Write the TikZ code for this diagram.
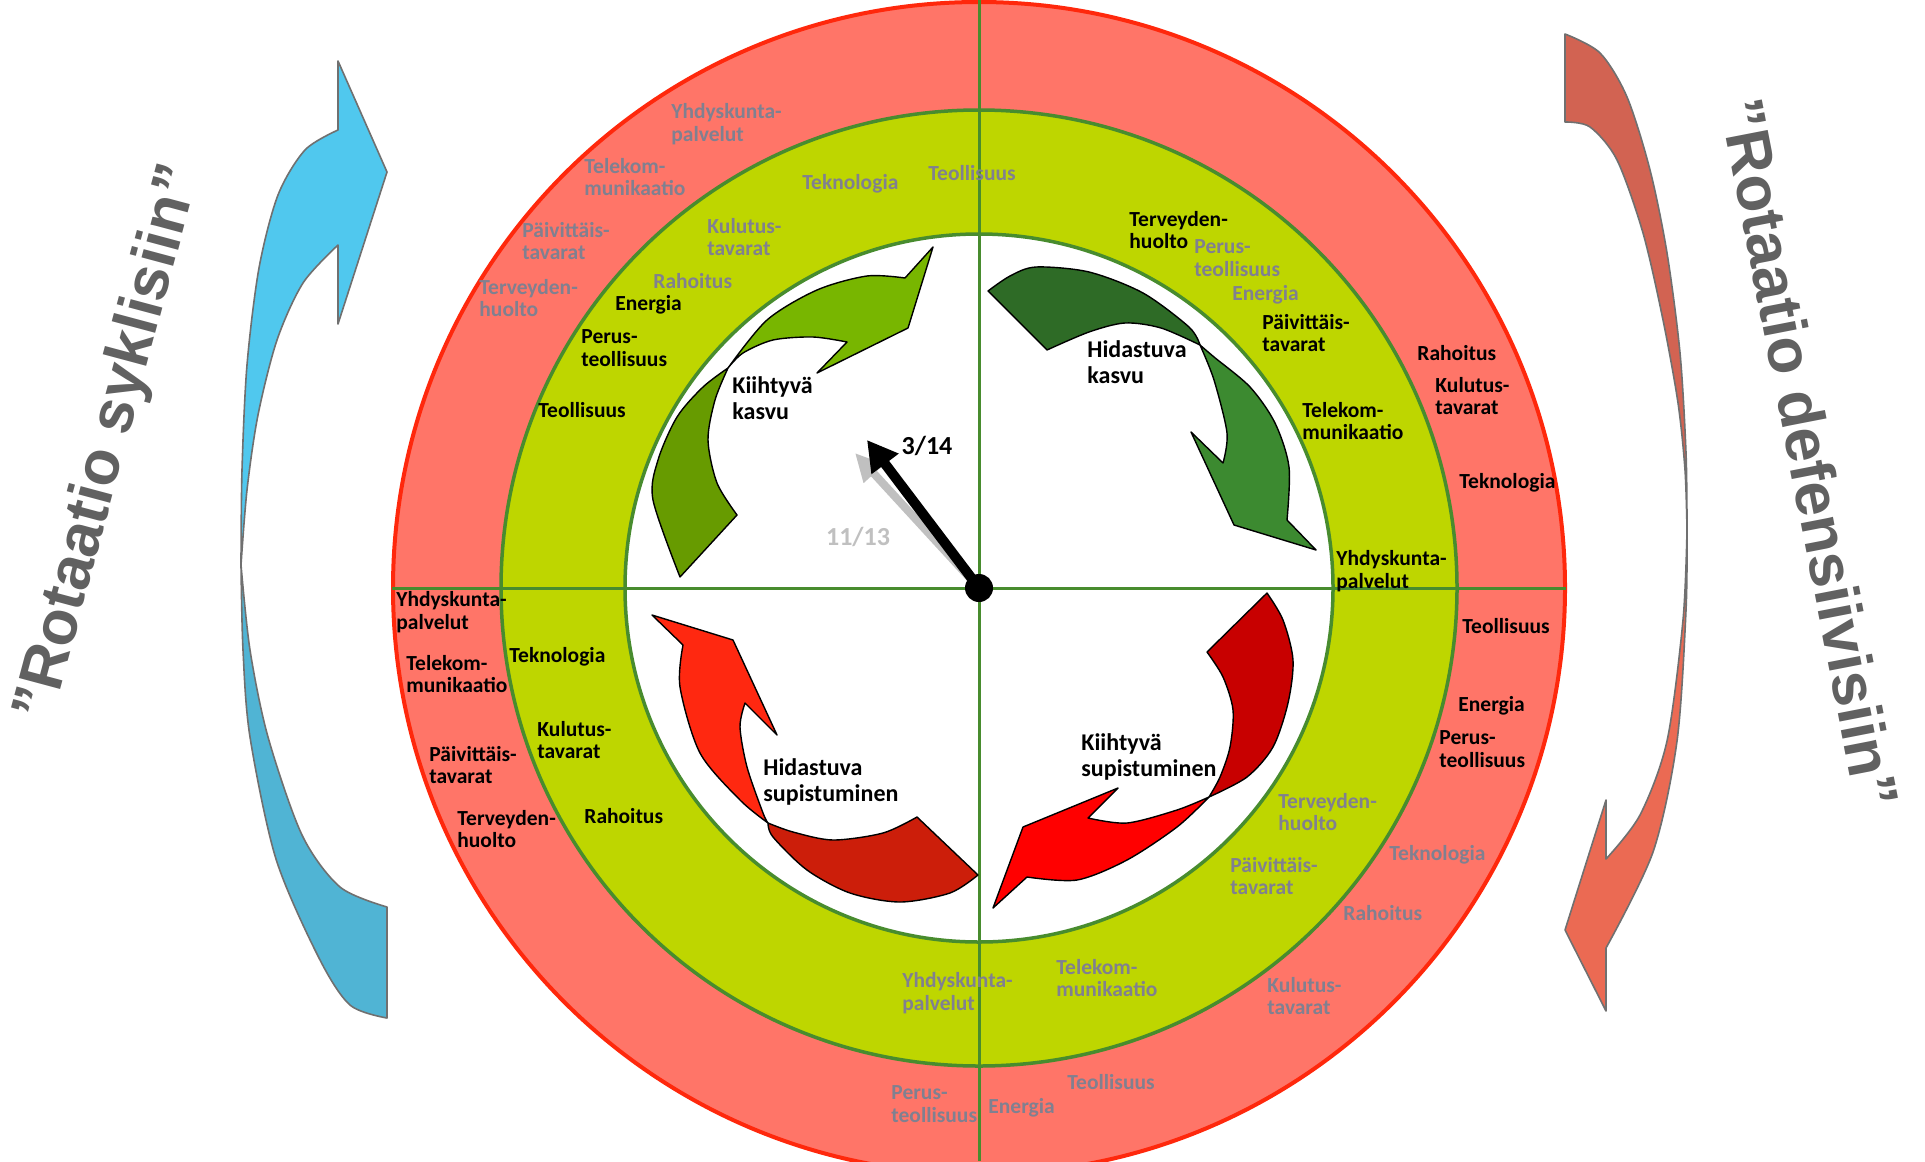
\documentclass[tikz,border=0pt]{standalone}
\usepackage{fontspec}
\setmainfont{Carlito}
\newfontfamily\rotfont{Liberation Sans}
\usetikzlibrary{arrows.meta}
\definecolor{ringred}{RGB}{255,117,104}
\definecolor{edgered}{RGB}{255,40,12}
\definecolor{ringgreen}{RGB}{190,214,0}
\definecolor{lineg}{RGB}{72,140,46}
\definecolor{lblgray}{RGB}{128,128,144}
\definecolor{sidegray}{RGB}{112,112,112}
\definecolor{rottext}{RGB}{97,97,97}
\definecolor{bluetop}{RGB}{80,200,238}
\definecolor{bluebot}{RGB}{80,180,212}
\definecolor{redtop}{RGB}{210,99,82}
\definecolor{redbot}{RGB}{235,106,83}
\definecolor{aonetail}{RGB}{103,155,0}
\definecolor{aonehead}{RGB}{120,182,0}
\definecolor{atwotail}{RGB}{46,107,38}
\definecolor{atwohead}{RGB}{60,138,48}
\definecolor{athreetail}{RGB}{204,30,10}
\definecolor{athreehead}{RGB}{255,40,16}
\definecolor{afourtail}{RGB}{200,0,0}
\definecolor{afourhead}{RGB}{255,0,0}
\definecolor{handgray}{RGB}{192,192,192}
\begin{document}
\begin{tikzpicture}[x=0.5pt,y=-0.5pt,
  lbl/.style={anchor=west, align=left, inner sep=0pt, font=\bfseries\fontsize{10.75pt}{11.25pt}\selectfont},
  blk/.style={lbl, text=black},
  gry/.style={lbl, text=lblgray},
  phase/.style={anchor=west, align=left, inner sep=0pt, text=black, font=\bfseries\fontsize{12pt}{13pt}\selectfont},
  blob/.style={draw=black, line width=0.7pt, line join=round},
  side/.style={draw=sidegray, line width=0.8pt, line join=round},
  rot/.style={inner sep=0pt, text=rottext, font=\rotfont\bfseries\fontsize{31pt}{34pt}\selectfont},
]
\clip (0,0) rectangle (1925,1161);
\fill[white] (0,0) rectangle (1925,1161);
\useasboundingbox (0,0) rectangle (1925,1161);

% ---- side arrows ----
\filldraw[side, fill=bluetop] plot[smooth] coordinates {(338,130) (305,150) (278,195) (259,268) (247,365) (242,470) (241,565)}
  -- plot[smooth] coordinates {(241,565) (247,490) (258,415) (277,340) (303,283) (338,245)}
  -- (338,324) -- (387,172) -- (338,61) -- cycle;
\filldraw[side, fill=bluebot] plot[smooth] coordinates {(241,565) (243,650) (250,737) (276,859) (319,958) (350,1005) (387,1018)}
  -- (387,907)
  -- plot[smooth] coordinates {(387,907) (340,887) (302,835) (268,737) (250,650) (241,565)} -- cycle;

\filldraw[side, fill=redtop] plot[smooth] coordinates {(1565,34) (1600,53) (1627,97) (1650,170) (1667,253) (1680,353) (1686,453) (1687,530)}
  -- plot[smooth] coordinates {(1687,530) (1685,470) (1678,403) (1663,320) (1643,233) (1617,160) (1590,127) (1565,122)} -- cycle;
\filldraw[side, fill=redbot] plot[smooth] coordinates {(1687,530) (1686,610) (1677,741) (1653,852) (1606,948)}
  -- (1606,1011) -- (1565,930) -- (1606,800) -- (1606,859)
  -- plot[smooth] coordinates {(1606,859) (1640,815) (1667,741) (1683,620) (1687,530)} -- cycle;

\node[rot, rotate=75] (rotL) at (110,443) {”Rotaatio syklisiin”};
\node[rot, rotate=-79] (rotR) at (1810,453) {”Rotaatio defensiivisiin”};

% ---- rings ----
\coordinate (c) at (979,588);
\filldraw[fill=ringred, draw=edgered, line width=2pt] (c) circle[radius=586];
\filldraw[fill=ringgreen, draw=lineg, line width=1.75pt] (c) circle[radius=478];
\filldraw[fill=white, draw=lineg, line width=1.75pt] (c) circle[radius=354];
\draw[lineg, line width=1.5pt] (392,588) -- (1566,588);
\draw[lineg, line width=1.5pt] (979,0) -- (979,1161);

% ---- ring labels ----
\node[gry] (a1) at (671,124) {Yhdyskunta-\\palvelut};
\node[gry] (a2) at (584,177) {Telekom-\\munikaatio};
\node[gry] (a3) at (522,241) {Päivittäis-\\tavarat};
\node[gry] (a4) at (479,298) {Terveyden-\\huolto};
\node[gry] (a5) at (802,184) {Teknologia};
\node[gry] (a6) at (928,173) {Teollisuus};
\node[gry] (a7) at (707,237) {Kulutus-\\tavarat};
\node[gry] (a8) at (653,281) {Rahoitus};
\node[blk] (a9) at (615,305) {Energia};
\node[blk] (a10) at (581,348) {Perus-\\teollisuus};
\node[blk] (a11) at (538,410) {Teollisuus};

\node[blk] (b1) at (1129,230) {Terveyden-\\huolto};
\node[gry] (b2) at (1194,258) {Perus-\\teollisuus};
\node[gry] (b3) at (1232,295) {Energia};
\node[blk] (b4) at (1262,333) {Päivittäis-\\tavarat};
\node[blk] (b5) at (1302,421) {Telekom-\\munikaatio};
\node[blk] (b6) at (1336,571) {Yhdyskunta-\\palvelut};
\node[blk] (b7) at (1417,353) {Rahoitus};
\node[blk] (b8) at (1435,396) {Kulutus-\\tavarat};
\node[blk] (b9) at (1459,483) {Teknologia};

\node[blk] (d1) at (396,612) {Yhdyskunta-\\palvelut};
\node[blk] (d2) at (406,674) {Telekom-\\munikaatio};
\node[blk] (d3) at (429,765) {Päivittäis-\\tavarat};
\node[blk] (d4) at (457,829) {Terveyden-\\huolto};
\node[blk] (d5) at (509,657) {Teknologia};
\node[blk] (d6) at (537,740) {Kulutus-\\tavarat};
\node[blk] (d7) at (584,816) {Rahoitus};

\node[blk] (e1) at (1462,626) {Teollisuus};
\node[blk] (e2) at (1458,706) {Energia};
\node[blk] (e3) at (1439,749) {Perus-\\teollisuus};
\node[gry] (e4) at (1389,855) {Teknologia};
\node[gry] (e5) at (1343,913) {Rahoitus};
\node[gry] (e6) at (1267,996) {Kulutus-\\tavarat};
\node[gry] (e7) at (1278,812) {Terveyden-\\huolto};
\node[gry] (e8) at (1230,876) {Päivittäis-\\tavarat};
\node[gry] (e9) at (1056,978) {Telekom-\\munikaatio};
\node[gry] (e10) at (902,993) {Yhdyskunta-\\palvelut};
\node[gry] (e11) at (891,1104) {Perus-\\teollisuus};
\node[gry] (e12) at (988,1108) {Energia};
\node[gry] (e13) at (1067,1082) {Teollisuus};

% ---- phase arrows ----
% 1: Kiihtyva kasvu
\filldraw[blob, fill=aonetail] plot[smooth] coordinates {(680,577) (653,500) (658,460) (677,417) (703,387) (728,368)}
  -- plot[smooth] coordinates {(728,368) (715,400) (708,440) (717,483) (737,515)} -- cycle;
\filldraw[blob, fill=aonehead] plot[smooth] coordinates {(728,368) (767,320) (817,290) (867,276) (905,278)}
  -- (933,247) -- (908,328) -- (817,373) -- (847,342)
  -- plot[smooth] coordinates {(847,342) (813,337) (773,340) (743,353) (728,368)} -- cycle;
% 2: Hidastuva kasvu
\filldraw[blob, fill=atwotail] plot[smooth] coordinates {(988,291) (1010,276) (1036,267) (1089,272) (1143,293) (1189,327) (1200,345)}
  -- plot[smooth] coordinates {(1200,345) (1161,328) (1125,323) (1089,332) (1047,350)} -- cycle;
\filldraw[blob, fill=atwohead] plot[smooth] coordinates {(1200,345) (1214,357) (1250,387) (1275,423) (1289,467) (1287,520)}
  -- (1316,550) -- (1234,525) -- (1191,432) -- (1223,463)
  -- plot[smooth] coordinates {(1223,463) (1227,433) (1214,380) (1200,345)} -- cycle;
% 3: Hidastuva supistuminen
\filldraw[blob, fill=athreetail] plot[smooth] coordinates {(917,817) (883,833) (833,840) (793,832) (768,823)}
  -- plot[smooth] coordinates {(768,823) (773,837) (807,870) (850,893) (900,902) (950,893) (978,875)} -- cycle;
\filldraw[blob, fill=athreehead] plot[smooth] coordinates {(768,823) (740,800) (700,753) (680,687) (683,645)}
  -- (652,615) -- (733,640) -- (777,735) -- (745,703)
  -- plot[smooth] coordinates {(745,703) (740,727) (747,767) (763,813) (768,823)} -- cycle;
% 4: Kiihtyva supistuminen
\filldraw[blob, fill=afourtail] plot[smooth] coordinates {(1267,593) (1283,620) (1293,660) (1288,703) (1273,747) (1247,777) (1209,797)}
  -- plot[smooth] coordinates {(1209,797) (1220,777) (1230,747) (1233,710) (1223,677) (1207,652)} -- cycle;
\filldraw[blob, fill=afourhead] plot[smooth] coordinates {(1209,797) (1177,827) (1127,860) (1077,880) (1027,877)}
  -- (993,908) -- (1023,827) -- (1118,788) -- (1088,818)
  -- plot[smooth] coordinates {(1088,818) (1127,823) (1177,810) (1209,797)} -- cycle;

% ---- phase labels ----
\node[phase] (p1) at (732,398) {Kiihtyvä\\kasvu};
\node[phase] (p2) at (1087,362) {Hidastuva\\kasvu};
\node[phase] (p3) at (763,782) {Hidastuva\\supistuminen};
\node[phase] (p4) at (1081,757) {Kiihtyvä\\supistuminen};

% ---- clock hands ----
\coordinate (tipold) at (855,453);
\coordinate (tipnew) at (867,440);
\draw[handgray, line width=4pt, -{Triangle[length=14pt,width=13pt]}] (c) -- (tipold);
\draw[black, line width=5pt, -{Triangle[length=15pt,width=16pt]}] (c) -- (tipnew);
\fill[black] (c) circle[radius=14];
\node[inner sep=0pt, text=black, font=\bfseries\fontsize{13pt}{13pt}\selectfont] (now) at (927,446) {3/14};
\node[inner sep=0pt, text=handgray, font=\bfseries\fontsize{13pt}{13pt}\selectfont] (prev) at (858,537) {11/13};
\end{tikzpicture}
\end{document}
